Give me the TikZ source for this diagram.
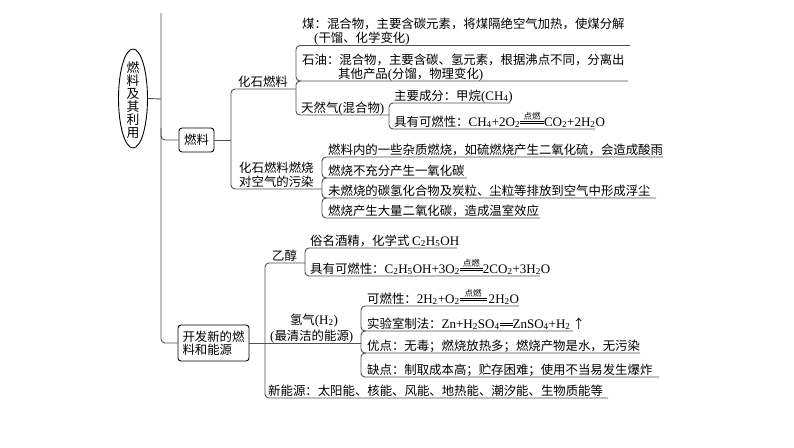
\documentclass[tikz,border=0pt]{standalone}
\usepackage{fontspec}
\setmainfont{Noto Sans CJK SC}
\newfontfamily\latfont[Scale=1.05]{Liberation Serif}
\usetikzlibrary{shapes.geometric}
\definecolor{lnc}{HTML}{505050}
\newcommand\zh{\fontsize{12.4}{12.8}\selectfont}
\newcommand\chsub[1]{\textsubscript{#1}}
\newcommand\latn[1]{{\latfont #1}}
\newcommand\cond[2]{\raisebox{0.2em}{\vbox{\hbox to #1{\hss\fontsize{8.5}{8.5}\selectfont #2\hss}\kern0.6pt\hrule width #1 height 0.5pt\kern1.3pt\hrule width #1 height 0.5pt}}}
\newcommand\dbl[1]{\raisebox{0.2em}{\vbox{\hrule width #1 height 0.5pt\kern1.3pt\hrule width #1 height 0.5pt}}}
\begin{document}
\begin{tikzpicture}[x=1pt,y=-1pt,
  ln/.style={draw=lnc, line width=0.9pt, rounded corners=4pt},
  txt/.style={anchor=base west, inner sep=0pt, font=\zh},
  boxn/.style={draw=black, line width=0.9pt, rounded corners=3pt, font=\zh}]
\useasboundingbox (0,0) rectangle (794,447);
% root
\node[ellipse, draw=black, line width=0.9pt, minimum width=29pt, minimum height=99pt, inner sep=0pt] (root) at (133,98.5) {};
\node[font=\fontsize{12.8}{13}\selectfont, align=center, inner sep=0pt] (roottxt) at (133,100) {燃\\料\\及\\其\\利\\用};
\coordinate (mtop) at (161,13);
\coordinate (mroot) at (161,99);
\draw[ln] (root.east) -- (mroot);
% boxes
\node[boxn, minimum width=35pt, minimum height=24pt, inner sep=0pt] (fuel) at (196.5,140) {燃料};
\node[boxn, minimum width=71pt, minimum height=36pt, inner sep=4pt, align=left] (dev) at (213.5,343) {开发新的燃\\料和能源};
% main bracket
\draw[ln] (mtop) -- (161,343) -- (dev.west);
\draw[ln] (161,128) -- (161,140) -- (fuel.west);
% fuel bracket
\draw[ln] (fuel.east) -- (231,140);
\draw[ln] (296,89) -- (231,89) -- (231,189) -- (322,189);
\node[txt] (fossil) at (238,86) {化石燃料};
\node[txt] at (239,172.5) {化石燃料燃烧};
\node[txt] (poll) at (239,186) {对空气的污染};
% fossil bracket x=296
\draw[ln] (630,45.5) -- (296,45.5) -- (296,81) -- (628,81);
\draw[ln] (301,81) -- (296,81) -- (296,115) -- (389,115);
\node[txt] (coal) at (302,28.5) {煤：混合物，主要含碳元素，将煤隔绝空气加热，使煤分解};
\node[txt] at (314,42.5) {\latn{(}干馏、化学变化\latn{)}};
\node[txt] (oil) at (302,64) {石油：混合物，主要含碳、氢元素，根据沸点不同，分离出};
\node[txt] at (338,78) {其他产品\latn{(}分馏，物理变化\latn{)}};
\node[txt] (gas) at (301,112) {天然气\latn{(}混合物\latn{)}};
% gas bracket x=389
\draw[ln] (510,103) -- (389,103) -- (389,129) -- (595,129);
\node[txt] at (394,100) {主要成分：甲烷\latn{(CH\chsub{4})}};
\node[txt] at (394,126) {具有可燃性：\latn{CH\chsub{4}+2O\chsub{2}}\cond{24pt}{点燃}\latn{CO\chsub{2}+2H\chsub{2}O}};
% pollution bracket x=322
\draw[ln] (663,157) -- (322,157) -- (322,178) -- (467,178);
\draw[ln] (327,178) -- (322,178) -- (322,198) -- (656,198);
\draw[ln] (327,198) -- (322,198) -- (322,218) -- (540,218);
\node[txt] at (328,154) {燃料内的一些杂质燃烧，如硫燃烧产生二氧化硫，会造成酸雨};
\node[txt] at (328,175) {燃烧不充分产生一氧化碳};
\node[txt] at (328,195) {未燃烧的碳氢化合物及炭粒、尘粒等排放到空气中形成浮尘};
\node[txt] at (328,215) {燃烧产生大量二氧化碳，造成温室效应};
% dev bracket x=265
\draw[ln] (305,263) -- (265,263) -- (265,398) -- (608,398);
\draw[ln] (dev.east) -- (361,343);
\node[txt] (eth) at (272,260) {乙醇};
\node[txt] at (268,395) {新能源：太阳能、核能、风能、地热能、潮汐能、生物质能等};
% ethanol bracket x=305
\draw[ln] (457,248) -- (305,248) -- (305,276) -- (540,276);
\node[txt] at (310,245) {俗名酒精，化学式 \latn{C\chsub{2}H\chsub{5}OH}};
\node[txt] at (310,273) {具有可燃性：\latn{C\chsub{2}H\chsub{5}OH+3O\chsub{2}}\cond{23pt}{点燃}\latn{2CO\chsub{2}+3H\chsub{2}O}};
% hydrogen
\node[font=\zh, anchor=base, inner sep=0pt] (h2a) at (314,324) {氢气\latn{(H\chsub{2})}};
\node[txt] (h2b) at (270,340.5) {\latn{(}最清洁的能源\latn{)}};
\draw[ln] (519,306) -- (361,306) -- (361,331) -- (573,331);
\draw[ln] (366,331) -- (361,331) -- (361,353) -- (640,353);
\draw[ln] (366,353) -- (361,353) -- (361,377) -- (659,377);
\node[txt] at (367,303) {可燃性：\latn{2H\chsub{2}+O\chsub{2}}\cond{27pt}{点燃}\latn{\,2H\chsub{2}O}};
\node[txt] at (367,328) {实验室制法：\latn{Zn+H\chsub{2}SO\chsub{4}}\dbl{13pt}\latn{ZnSO\chsub{4}+H\chsub{2}}\,↑};
\node[txt] at (367,350) {优点：无毒；燃烧放热多；燃烧产物是水，无污染};
\node[txt] at (367,374) {缺点：制取成本高；贮存困难；使用不当易发生爆炸};
\end{tikzpicture}
\end{document}
